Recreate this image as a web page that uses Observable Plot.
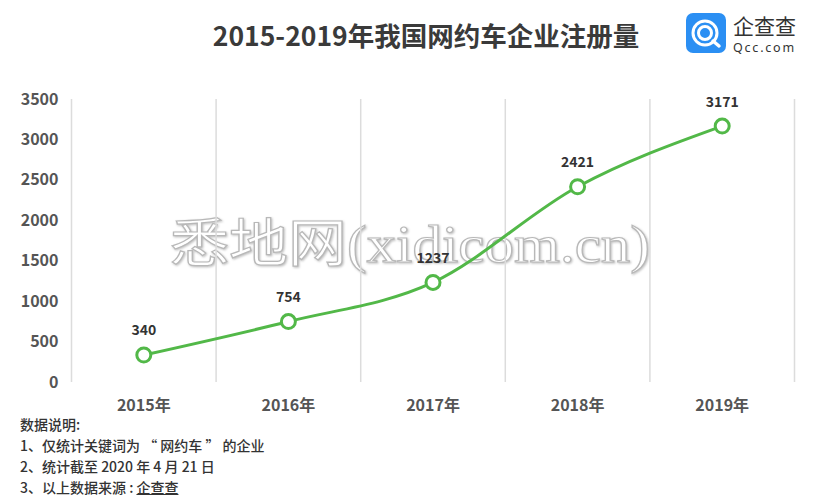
<!DOCTYPE html>
<html><head><meta charset="utf-8">
<script src="https://cdn.jsdelivr.net/npm/d3@7"></script>
<script src="https://cdn.jsdelivr.net/npm/@observablehq/plot@0.6"></script>
<style>
html,body{margin:0;padding:0;background:#fff;}
body{width:830px;height:503px;position:relative;overflow:hidden;font-family:"Noto Sans CJK SC","Noto Sans",sans-serif;}
#title{position:absolute;left:0;top:17px;width:852px;text-align:center;font-size:26.5px;font-weight:700;color:#3a3a3a;line-height:36px;}
#logo{position:absolute;left:686px;top:3px;}
#chart{position:absolute;left:0;top:70px;}
#notes{position:absolute;left:20px;top:414px;font-size:14px;color:#333;line-height:21px;font-weight:500;}
#notes u{text-decoration:underline;}
#wm{position:absolute;left:0;top:0;pointer-events:none;}
</style></head>
<body>
<div id="title">2015-2019年我国网约车企业注册量</div>
<svg id="logo" width="136" height="60" viewBox="0 0 136 60">
  <g transform="translate(0,10)">
  <rect x="0" y="0" width="40" height="40" rx="7" fill="#2b8ff3"/>
  <circle cx="19" cy="20" r="12" fill="none" stroke="#fff" stroke-width="3"/>
  <circle cx="19" cy="20" r="6.5" fill="none" stroke="#fff" stroke-width="3"/>
  <line x1="27" y1="28" x2="33" y2="33" stroke="#fff" stroke-width="3.5" stroke-linecap="round"/>
  <text x="47" y="21" font-size="21" fill="#333" font-family="Noto Sans CJK SC">企查查</text>
  <text x="47" y="39" font-size="12.5" fill="#333" font-family="Noto Sans" letter-spacing="1.8">Qcc.com</text>
  </g>
</svg>
<svg id="wm" width="830" height="503">
  <text x="170" y="262" font-size="52" textLength="480" lengthAdjust="spacingAndGlyphs" fill="#fff" stroke="#b8b8b8" stroke-width="1.2" font-family="Liberation Serif, Noto Sans CJK SC" style="filter:drop-shadow(1px 1px 1px rgba(0,0,0,0.25))">悉地网(xidicom.cn)</text>
</svg>
<div id="chart"></div>
<div id="notes">数据说明:<br>1、仅统计关键词为 “ 网约车 ” 的企业<br>2、统计截至 2020 年 4 月 21 日<br>3、以上数据来源 : <u>企查查</u></div>
<script>
const years = [2015, 2016, 2017, 2018, 2019];
const counts = [340, 754, 1237, 2421, 3171];
const yTicks = [0, 500, 1000, 1500, 2000, 2500, 3000, 3500];

const data = years.map((y, i) => ({year: y, value: counts[i]}));
const bounds = [years[0] - 0.5, ...years.map(y => y + 0.5)];
const green = "#52b848";

const chart = Plot.plot({
  width: 830,
  height: 345,
  marginLeft: 71,
  marginRight: 36,
  marginTop: 29,
  marginBottom: 33,
  style: {fontFamily: '"Noto Sans CJK SC","Noto Sans",sans-serif', background: "transparent"},
  x: {type: "linear", domain: [years[0] - 0.5, years[years.length - 1] + 0.5]},
  y: {domain: [0, 3500]},
  marks: [
    Plot.ruleX(bounds, {x: d => d, y1: 0, y2: 3500, stroke: "#dcdcdc", strokeWidth: 1.5}),
    Plot.axisY({ticks: yTicks, tickFormat: d => String(d), tickSize: 0, tickPadding: 13, fontSize: 16, fontWeight: 700, fill: "#555", label: null}),
    Plot.axisX({ticks: years, tickFormat: d => d + "年", tickSize: 0, tickPadding: 17, fontSize: 16, fontWeight: 700, fill: "#555", label: null}),
    Plot.line(data, {x: "year", y: "value", curve: "monotone-x", stroke: green, strokeWidth: 3}),
    Plot.dot(data, {x: "year", y: "value", r: 7, fill: "#fff", stroke: green, strokeWidth: 3}),
    Plot.text(data, {x: "year", y: "value", text: d => String(d.value), dy: -24, fontSize: 14, fontWeight: 700, fill: "#333"})
  ]
});
document.getElementById("chart").appendChild(chart);
</script>
</body></html>
